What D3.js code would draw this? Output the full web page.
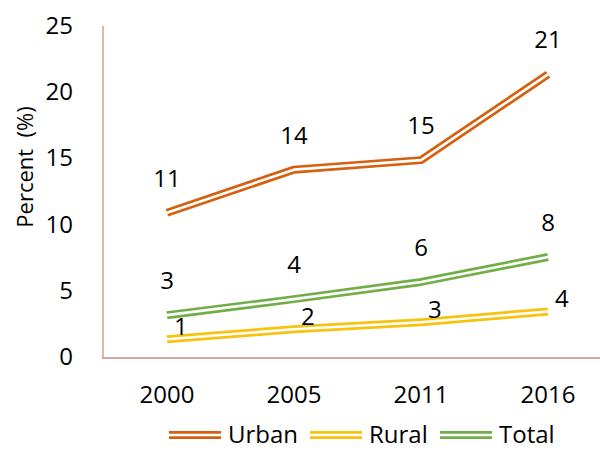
<!DOCTYPE html>
<html><head><meta charset="utf-8">
<script src="https://cdn.jsdelivr.net/npm/d3@7"></script>
<style>body{margin:0;background:#fff}svg{display:block}text{font-family:"Open Sans",sans-serif;fill:#000}</style>
</head><body><div id="chart"></div>
<script>
const categories = ["2000","2005","2011","2016"];
const urban = [10.9, 14.15, 14.87, 21.35];
const rural = [1.34, 2.1, 2.62, 3.44];
const total = [3.16, 4.37, 5.67, 7.55];
const urbanLabels = ["11","14","15","21"];
const ruralLabels = ["1","2","3","4"];
const totalLabels = ["3","4","6","8"];
const yTicks = [0,5,10,15,20,25];
const seriesNames = ["Urban","Rural","Total"];
const colors = ["#D5600F","#F7C30E","#72AE48"];

const W=600,H=450;
const svg=d3.select("#chart").append("svg").attr("width",W).attr("height",H);
const x=d3.scalePoint().domain(categories).range([167,548]);
const y=d3.scaleLinear().domain([0,25]).range([357,26]);
const fs=24;

// axes lines
svg.append("line").attr("x1",103).attr("x2",103).attr("y1",y(25)).attr("y2",y(0)+0.5)
  .attr("stroke","#D7A384").attr("stroke-width",1.5);
svg.append("line").attr("x1",102).attr("x2",600).attr("y1",y(0)+1).attr("y2",y(0)+1)
  .attr("stroke","#CC8A80").attr("stroke-width",1.5);

// y tick labels
svg.selectAll(".yt").data(yTicks).join("text").attr("x",73).attr("y",d=>y(d)+8)
  .attr("text-anchor","end").attr("font-size",fs).text(d=>d);
// x labels
svg.selectAll(".xt").data(categories).join("text").attr("x",d=>x(d)).attr("y",403)
  .attr("text-anchor","middle").attr("font-size",fs).text(d=>d);
// y title
svg.append("text").attr("transform","translate(33,167) rotate(-90)").attr("text-anchor","middle")
  .attr("font-size",22).attr("xml:space","preserve").text("Percent  (%)");

const line=d3.line().x((d,i)=>x(categories[i])).y(d=>y(d));
function dbl(g,dstr,color){
  g.append("path").attr("d",dstr).attr("fill","none").attr("stroke",color).attr("stroke-width",8)
    .attr("stroke-linejoin","round").attr("stroke-linecap","butt");
  g.append("path").attr("d",dstr).attr("fill","none").attr("stroke","#fff").attr("stroke-width",2.6)
    .attr("stroke-linejoin","round").attr("stroke-linecap","butt");
}
const data=[urban,rural,total];
data.forEach((s,k)=>dbl(svg.append("g"),line(s),colors[k]));

// labels
svg.selectAll(".ul").data(urban).join("text").attr("x",(d,i)=>x(categories[i])).attr("y",d=>y(d)-26)
  .attr("text-anchor","middle").attr("font-size",fs).text((d,i)=>urbanLabels[i]);
svg.selectAll(".tl").data(total).join("text").attr("x",(d,i)=>x(categories[i])).attr("y",d=>y(d)-26)
  .attr("text-anchor","middle").attr("font-size",fs).text((d,i)=>totalLabels[i]);
svg.selectAll(".rl").data(rural).join("text").attr("x",(d,i)=>x(categories[i])+7).attr("y",d=>y(d)-4)
  .attr("text-anchor","start").attr("font-size",fs).text((d,i)=>ruralLabels[i]);

// legend
const legX=[169,310,440];
seriesNames.forEach((n,k)=>{
  const g=svg.append("g");
  const p=`M${legX[k]},435L${legX[k]+52},435`;
  dbl(g,p,colors[k]);
  g.append("text").attr("x",legX[k]+59).attr("y",443).attr("font-size",fs).text(n);
});
</script></body></html>
